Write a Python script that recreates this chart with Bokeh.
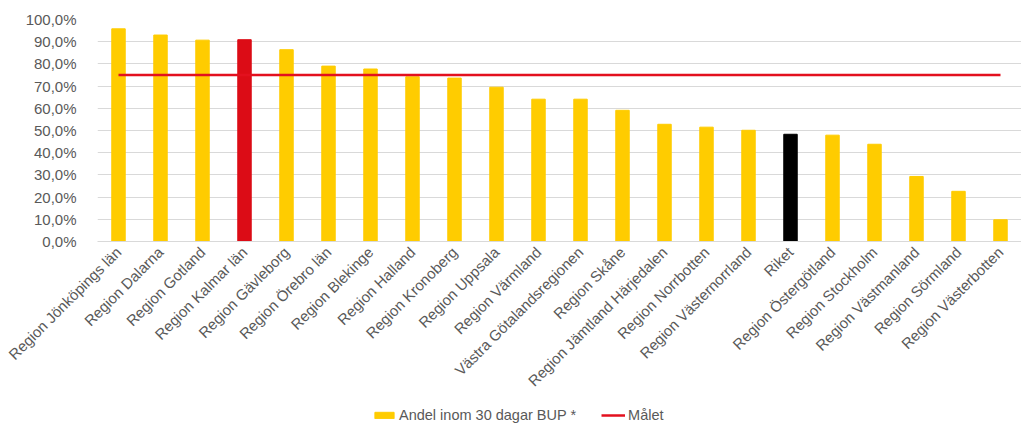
from bokeh.plotting import figure
from bokeh.layouts import column
from bokeh.models import ColumnDataSource, FactorRange, Range1d, FixedTicker, Legend, LegendItem
from bokeh.embed import file_html
from bokeh.resources import INLINE
from math import pi

regions = ["Region Jönköpings län", "Region Dalarna", "Region Gotland", "Region Kalmar län",
           "Region Gävleborg", "Region Örebro län", "Region Blekinge", "Region Halland",
           "Region Kronoberg", "Region Uppsala", "Region Värmland", "Västra Götalandsregionen",
           "Region Skåne", "Region Jämtland Härjedalen", "Region Norrbotten", "Region Västernorrland",
           "Riket", "Region Östergötland", "Region Stockholm", "Region Västmanland",
           "Region Sörmland", "Region Västerbotten"]
andel = [95.8, 93.0, 90.7, 90.9, 86.4, 79.0, 77.7, 74.2, 73.6, 69.5, 64.1, 64.1,
         59.1, 52.8, 51.5, 50.1, 48.3, 47.9, 43.8, 29.3, 22.6, 9.8]
malet = [75.0, 75.0]
y_ticks = [0, 10, 20, 30, 40, 50, 60, 70, 80, 90, 100]
y_labels = ["0,0%", "10,0%", "20,0%", "30,0%", "40,0%", "50,0%", "60,0%", "70,0%",
            "80,0%", "90,0%", "100,0%"]
series_labels = ["Andel inom 30 dagar BUP *", "Målet"]

YELLOW = "#FFCC00"
RED = "#DC0C16"
GOAL_RED = "#E3101E"
BLACK = "#000000"
colors = []
for r in regions:
    if r == "Region Kalmar län":
        colors.append(RED)
    elif r == "Riket":
        colors.append(BLACK)
    else:
        colors.append(YELLOW)

src = ColumnDataSource(dict(x=regions, y=andel, c=colors))

FONT = "Liberation Sans"
GREY = "#595959"

p = figure(x_range=FactorRange(*regions, range_padding=0), y_range=Range1d(0, 100),
           width=1021, height=405, output_backend="svg", toolbar_location=None,
           min_border_left=97, min_border_right=0, min_border_top=19, min_border_bottom=164)
p.outline_line_color = None
p.background_fill_color = "white"

bars = p.vbar(x="x", top="y", width=0.32, color="c", source=src)
goal = p.line(x=[regions[0], regions[-1]], y=malet, line_color=GOAL_RED, line_width=2.5)

p.yaxis.ticker = FixedTicker(ticks=y_ticks)
p.yaxis.major_label_overrides = {t: l for t, l in zip(y_ticks, y_labels)}
p.yaxis.axis_line_color = None
p.yaxis.major_tick_line_color = None
p.yaxis.minor_tick_line_color = None
p.yaxis.major_label_standoff = 15
p.yaxis.major_label_text_font = FONT
p.yaxis.major_label_text_font_size = "15px"
p.yaxis.major_label_text_color = GREY

p.xaxis.axis_line_color = "#D9D9D9"
p.xaxis.major_tick_line_color = None
p.xaxis.minor_tick_line_color = None
p.xaxis.major_label_orientation = pi / 4
p.xaxis.major_label_standoff = 8
p.xaxis.major_tick_out = 0
p.xaxis.major_tick_in = 0
p.xaxis.minor_tick_out = 0
p.xaxis.major_label_text_font = FONT
p.xaxis.major_label_text_font_size = "15px"
p.xaxis.major_label_text_color = GREY

p.xgrid.grid_line_color = None
p.ygrid.grid_line_color = "#D9D9D9"
p.ygrid.grid_line_width = 1

# legend strip below the chart (its proxy glyphs use the same data but lie outside its view)
lf = figure(x_range=FactorRange(*regions, range_padding=0), y_range=Range1d(200, 300),
            width=1021, height=19, output_backend="svg", toolbar_location=None,
            min_border=0, x_axis_type=None, y_axis_type=None)
lf.outline_line_color = None
lf.xgrid.grid_line_color = None
lf.ygrid.grid_line_color = None
proxy_bar = lf.vbar(x=[regions[0]], top=[andel[0]], width=0.32, color=YELLOW)
proxy_line = lf.line(x=[regions[0], regions[-1]], y=malet, line_color=GOAL_RED, line_width=2.5)

legend = Legend(items=[LegendItem(label=series_labels[0], renderers=[proxy_bar], index=0),
                       LegendItem(label=series_labels[1], renderers=[proxy_line])],
                orientation="horizontal", location=(275, 1),
                border_line_color=None, background_fill_alpha=0,
                label_text_font=FONT, label_text_font_size="14.5px", label_text_color=GREY,
                glyph_width=24, glyph_height=8, label_standoff=3, spacing=25,
                label_height=16, padding=0, margin=0)
lf.add_layout(legend, "center")

layout = column(p, lf, spacing=0)

open("out.html", "w").write(file_html(layout, INLINE))
